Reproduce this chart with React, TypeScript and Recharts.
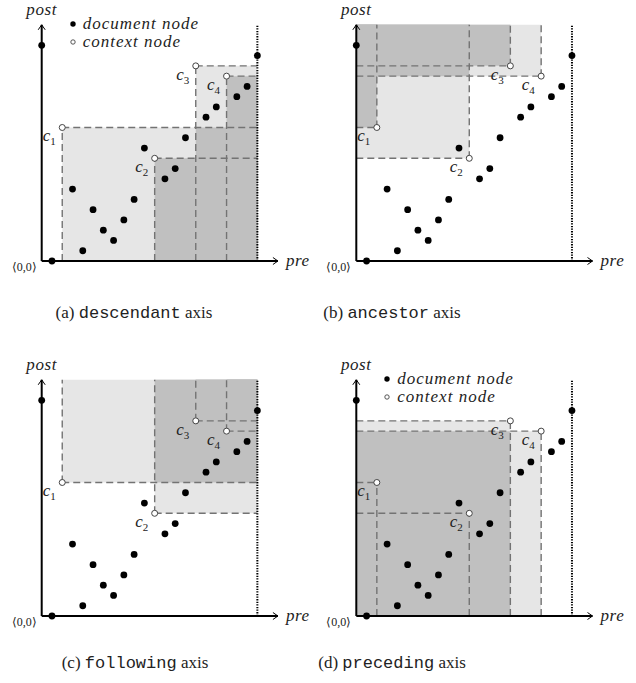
import React from "react";
import { Legend, ReferenceArea, ReferenceDot, ReferenceLine, Scatter, ScatterChart, XAxis, YAxis } from "recharts";

// node ranks: postRanks[i] is the post rank of the node whose pre rank is preRanks[i]
const preRanks = [0, 1, 2, 3, 4, 5, 6, 7, 8, 9, 10, 11, 12, 13, 14, 15, 16, 17, 18, 19, 20, 21];
const postRanks = [21, 0, 13, 7, 1, 5, 3, 2, 4, 6, 11, 10, 8, 9, 12, 19, 14, 15, 18, 16, 17, 20];
const contextPre = [2, 11, 15, 18];
const contextIds = ["1", "2", "3", "4"];
const axisNames = ["descendant", "ancestor", "following", "preceding"];
const panelTags = ["a", "b", "c", "d"];
const legendNames = ["document node", "context node"];
const AXIS_END = 23;
const LAST_PRE = 21;

const SERIF = "Liberation Serif";
const MONO = "Liberation Mono";
const LIGHT = "#e6e6e6";
const DARK = "#c0c0c0";
const DASH = "#737373";

const W = 318;
const H = 300;
const UNIT = 10.27;
const ORIGIN_Y = 261;

type Node = { pre: number; post: number; id?: string };
type Box = { x1: number; x2: number; y1: number; y2: number };

const docs: Node[] = preRanks
  .map((p, i) => ({ pre: p, post: postRanks[i] }))
  .filter((d) => !contextPre.includes(d.pre));
const contexts: Node[] = contextPre.map((p, i) => ({ pre: p, post: postRanks[preRanks.indexOf(p)], id: contextIds[i] }));

function region(axis: string, c: Node): Box {
  const right = axis === "descendant" || axis === "following";
  const up = axis === "ancestor" || axis === "following";
  return {
    x1: right ? c.pre : 0,
    x2: right ? LAST_PRE : c.pre,
    y1: up ? c.post : 0,
    y2: up ? AXIS_END : c.post,
  };
}

// cells covered by two or more regions get the darker shade
function overlaps(boxes: Box[]): Box[] {
  const out: Box[] = [];
  for (let i = 0; i < boxes.length; i++) {
    for (let j = i + 1; j < boxes.length; j++) {
      const a = boxes[i];
      const b = boxes[j];
      const o = { x1: Math.max(a.x1, b.x1), x2: Math.min(a.x2, b.x2), y1: Math.max(a.y1, b.y1), y2: Math.min(a.y2, b.y2) };
      if (o.x1 < o.x2 && o.y1 < o.y2) out.push(o);
    }
  }
  return out;
}

const DocDot = (p: any) => <circle cx={p.cx} cy={p.cy} r={3.4} fill="#000" />;

const CtxDot = (p: any) => (
  <g>
    <circle cx={p.cx} cy={p.cy} r={3} fill="#fff" stroke="#444" strokeWidth={1} />
    <text x={p.cx - 13} y={p.cy + 14} textAnchor="middle" fontFamily={SERIF} fontStyle="italic" fontSize={17} fill="#222">
      c<tspan fontSize={11} fontStyle="normal" dy={4}>{p.payload.id}</tspan>
    </text>
  </g>
);

const XTip = (p: any) => (
  <g>
    <path d={`M${p.cx - 5},${p.cy - 3.5} L${p.cx},${p.cy} L${p.cx - 5},${p.cy + 3.5}`} fill="none" stroke="#000" strokeWidth={1} />
    <text x={p.cx + 8} y={p.cy + 5} fontFamily={SERIF} fontStyle="italic" fontSize={17} letterSpacing={0.6} fill="#222">
      pre
    </text>
  </g>
);

const YTip = (p: any) => (
  <g>
    <path d={`M${p.cx - 3.5},${p.cy + 5} L${p.cx},${p.cy} L${p.cx + 3.5},${p.cy + 5}`} fill="none" stroke="#000" strokeWidth={1} />
    <text x={p.cx} y={p.cy - 10} textAnchor="middle" fontFamily={SERIF} fontStyle="italic" fontSize={17} letterSpacing={0.6} fill="#222">
      post
    </text>
  </g>
);

const OriginTag = (p: any) => (
  <text x={p.cx - 5} y={p.cy + 10} textAnchor="end" fontFamily={SERIF} fontSize={12} fill="#222">
    ⟨0,0⟩
  </text>
);

const LegendBox = ({ payload }: any) => {
  const items = [...(payload ?? [])].sort((a: any, b: any) => legendNames.indexOf(a.value) - legendNames.indexOf(b.value));
  return (
    <div style={{ fontFamily: SERIF, fontStyle: "italic", fontSize: 17, letterSpacing: 1, color: "#222" }}>
      {items.map((e: any) => (
        <div key={e.value} style={{ display: "flex", alignItems: "center", height: 17.7 }}>
          <svg width={15} height={10}>
            {e.value === legendNames[0] ? (
              <circle cx={5} cy={5} r={2.7} fill="#000" />
            ) : (
              <circle cx={5} cy={5} r={2.2} fill="#fff" stroke="#444" strokeWidth={0.9} />
            )}
          </svg>
          <span>{e.value}</span>
        </div>
      ))}
    </div>
  );
};

function Panel({ idx, left, legend }: { idx: number; left: number; legend: boolean }) {
  const axis = axisNames[idx];
  const span = AXIS_END * UNIT;
  const boxes = contexts.map((c) => region(axis, c));
  const dark = overlaps(boxes);
  return (
    <ScatterChart
      width={W}
      height={H}
      margin={{ top: ORIGIN_Y - span, left, right: W - left - span, bottom: H - ORIGIN_Y }}
    >
      <XAxis type="number" dataKey="pre" domain={[0, AXIS_END]} hide />
      <YAxis type="number" dataKey="post" domain={[0, AXIS_END]} hide />
      {boxes.map((b, i) => (
        <ReferenceArea key={`l${i}`} {...b} fill={LIGHT} fillOpacity={1} stroke="none" ifOverflow="visible" />
      ))}
      {dark.map((b, i) => (
        <ReferenceArea key={`d${i}`} {...b} fill={DARK} fillOpacity={1} stroke="none" ifOverflow="visible" />
      ))}
      {contexts.map((c, i) => (
        <ReferenceLine
          key={`v${i}`}
          segment={[{ x: c.pre, y: boxes[i].y1 }, { x: c.pre, y: boxes[i].y2 }]}
          stroke={DASH}
          strokeWidth={1.4}
          strokeDasharray="7 4"
          ifOverflow="visible"
        />
      ))}
      {contexts.map((c, i) => (
        <ReferenceLine
          key={`h${i}`}
          segment={[{ x: boxes[i].x1, y: c.post }, { x: boxes[i].x2, y: c.post }]}
          stroke={DASH}
          strokeWidth={1.4}
          strokeDasharray="7 4"
          ifOverflow="visible"
        />
      ))}
      <ReferenceLine
        segment={[{ x: LAST_PRE, y: 0 }, { x: LAST_PRE, y: AXIS_END }]}
        stroke="#000"
        strokeWidth={2}
        strokeDasharray="1.3 1.3"
        ifOverflow="visible"
      />
      <ReferenceLine segment={[{ x: 0, y: 0 }, { x: AXIS_END, y: 0 }]} stroke="#000" strokeWidth={2} ifOverflow="visible" />
      <ReferenceLine segment={[{ x: 0, y: 0 }, { x: 0, y: AXIS_END }]} stroke="#000" strokeWidth={2} ifOverflow="visible" />
      <ReferenceDot x={AXIS_END} y={0} shape={XTip} ifOverflow="visible" />
      <ReferenceDot x={0} y={AXIS_END} shape={YTip} ifOverflow="visible" />
      <ReferenceDot x={0} y={0} shape={OriginTag} ifOverflow="visible" />
      <Scatter name={legendNames[0]} data={docs} shape={DocDot} isAnimationActive={false} />
      <Scatter name={legendNames[1]} data={contexts} shape={CtxDot} isAnimationActive={false} />
      {legend && (
        <Legend
          layout="vertical"
          align="center"
          verticalAlign="middle"
          content={LegendBox}
          wrapperStyle={{ top: 15, left: left + 26, width: "auto" }}
        />
      )}
    </ScatterChart>
  );
}

const panels = [
  { x: 0, y: 0, left: 41.7, legend: true, cap: 134, capY: 302 },
  { x: 318, y: 0, left: 38.3, legend: false, cap: 392, capY: 302 },
  { x: 0, y: 355, left: 41.7, legend: false, cap: 135, capY: 652 },
  { x: 318, y: 355, left: 38.3, legend: true, cap: 392, capY: 652 },
];

export default function App() {
  return (
    <div style={{ position: "absolute", left: 0, top: 0, width: 636, height: 683, background: "#fff" }}>
      {panels.map((p, i) => (
        <div key={i} style={{ position: "absolute", left: p.x, top: p.y }}>
          <Panel idx={i} left={p.left} legend={p.legend} />
        </div>
      ))}
      {panels.map((p, i) => (
        <div
          key={`cap${i}`}
          style={{
            position: "absolute",
            left: p.cap - 150,
            top: p.capY,
            width: 300,
            textAlign: "center",
            fontFamily: SERIF,
            fontSize: 17,
            lineHeight: "22px",
            color: "#222",
            whiteSpace: "nowrap",
          }}
        >
          ({panelTags[i]}) <span style={{ fontFamily: MONO }}>{axisNames[i]}</span> axis
        </div>
      ))}
    </div>
  );
}
